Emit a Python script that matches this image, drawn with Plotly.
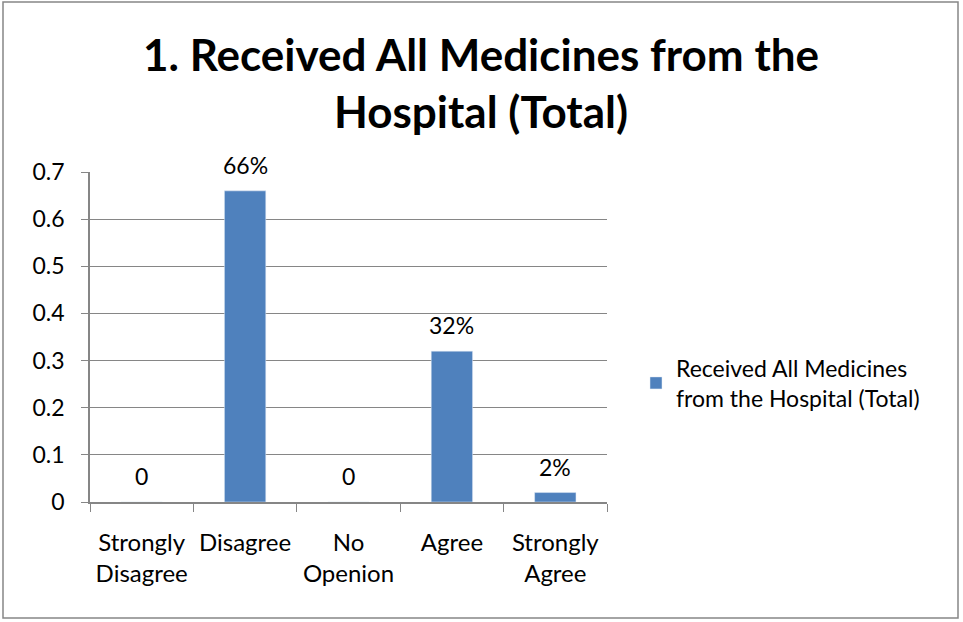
import plotly.graph_objects as go

categories = ["Strongly<br>Disagree", "Disagree", "No<br>Openion", "Agree", "Strongly<br>Agree"]
values = [0, 0.66, 0, 0.32, 0.02]
labels = ["0", "66%", "0", "32%", "2%"]
series_name = "Received All Medicines<br>from the Hospital (Total)"
title_text = "<b>1. Received All Medicines from the<br>Hospital (Total)</b>"
y_ticks = [0, 0.1, 0.2, 0.3, 0.4, 0.5, 0.6, 0.7]

FONT = "Lato, 'Open Sans', sans-serif"
fig = go.Figure()
fig.add_trace(go.Bar(
    x=categories, y=values, name=series_name,
    cliponaxis=False,
    marker=dict(color="#4F81BD"), showlegend=True,
))

for c, v, t in zip(categories, values, labels):
    fig.add_annotation(x=c, y=v, text=t, showarrow=False, xref="x", yref="y",
                       yanchor="middle", yshift=26,
                       font=dict(size=23, color="black", family=FONT))

L, R, T, B = 90, 356, 172, 120
W, H = 963, 622
pw, ph = W - L - R, H - T - B

fig.update_layout(
    width=W, height=H,
    margin=dict(l=L, r=R, t=T, b=B),
    paper_bgcolor="white", plot_bgcolor="white",
    font=dict(family=FONT, color="black"),
    bargap=0.6,
    showlegend=True,
    legend=dict(x=(636 - L) / pw, y=(502 - 383) / ph, xanchor="left", yanchor="middle",
                font=dict(size=23, family=FONT), itemwidth=30, bgcolor="rgba(0,0,0,0)"),
    xaxis=dict(showline=True, linecolor="#868686", linewidth=1.5,
               ticks="outside", tickson="boundaries", ticklen=8, tickcolor="#868686",
               ticklabelstandoff=18,
               tickfont=dict(size=24, family=FONT), showgrid=False),
    yaxis=dict(range=[0, 0.7], tickvals=y_ticks, ticktext=[f"{v:g}" for v in y_ticks],
               showline=True, linecolor="#868686", linewidth=1.5,
               ticks="outside", ticklen=7, tickcolor="#868686",
               ticklabelstandoff=12,
               gridcolor="#868686", gridwidth=1.2, zeroline=False,
               tickfont=dict(size=23, family=FONT)),
)

fig.add_annotation(text=title_text, xref="paper", yref="paper",
                   x=(481 - L) / pw, y=(502 - 82) / ph, xanchor="center", yanchor="middle",
                   showarrow=False, font=dict(size=44, family=FONT, color="black"))

fig.add_shape(type="rect", xref="paper", yref="paper",
              x0=(3 - L) / pw, x1=(958 - L) / pw,
              y0=(502 - 618) / ph, y1=(502 - 2) / ph,
              line=dict(color="#868686", width=1.5), fillcolor="rgba(0,0,0,0)", layer="below")

fig.write_html("out.html", config={"displayModeBar": False},
               post_script="document.body.style.margin='0';document.body.style.overflow='hidden';")
